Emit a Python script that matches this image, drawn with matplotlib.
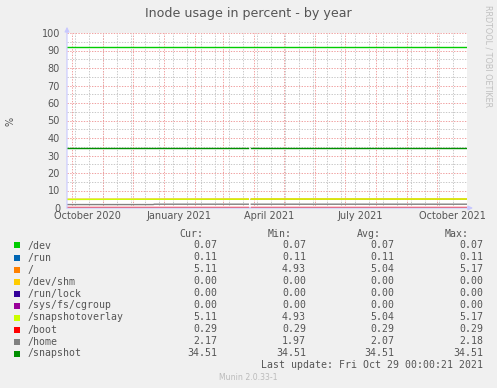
"""
Munin: Inode usage in percent - by year.
"""
import matplotlib
matplotlib.use("Agg")
import matplotlib.pyplot as plt
import numpy as np
import pandas as pd
from matplotlib.patches import Rectangle

W, H = 497, 388

# данные
names = ["/dev", "/run", "/", "/dev/shm", "/run/lock", "/sys/fs/cgroup",
         "/snapshotoverlay", "/boot", "/home", "/snapshot"]
colors = ["#00CC00", "#0066B3", "#FF8000", "#FFCC00", "#330099", "#990099",
          "#CCFF00", "#FF0000", "#808080", "#008F00"]
cur = ["0.07", "0.11", "5.11", "0.00", "0.00", "0.00", "5.11", "0.29", "2.17", "34.51"]
vmin = ["0.07", "0.11", "4.93", "0.00", "0.00", "0.00", "4.93", "0.29", "1.97", "34.51"]
vavg = ["0.07", "0.11", "5.04", "0.00", "0.00", "0.00", "5.04", "0.29", "2.07", "34.51"]
vmax = ["0.07", "0.11", "5.17", "0.00", "0.00", "0.00", "5.17", "0.29", "2.18", "34.51"]

# точки по времени (NaN = пропуск данных в конце марта)
dates = pd.to_datetime(["2020-09-25 17:00", "2020-12-21 00:00", "2020-12-22 00:00",
                        "2021-03-26 00:00", "2021-03-27 00:00", "2021-03-29 00:00",
                        "2021-10-30 17:00"])
nan = np.nan
series = {
    "/dev":             [0.07, 0.07, 0.07, 0.07, nan, 0.07, 0.07],
    "/run":             [0.11, 0.11, 0.11, 0.11, nan, 0.11, 0.11],
    "/":                [4.93, 5.00, 5.00, 5.05, nan, 5.10, 5.11],
    "/dev/shm":         [0.00, 0.00, 0.00, 0.00, nan, 0.00, 0.00],
    "/run/lock":        [0.00, 0.00, 0.00, 0.00, nan, 0.00, 0.00],
    "/sys/fs/cgroup":   [0.00, 0.00, 0.00, 0.00, nan, 0.00, 0.00],
    "/snapshotoverlay": [4.93, 5.00, 5.00, 5.05, nan, 5.10, 5.11],
    "/boot":            [0.29, 0.29, 0.29, 0.29, nan, 0.29, 0.29],
    "/home":            [1.97, 1.97, 2.17, 2.17, nan, 2.17, 2.17],
    "/snapshot":        [34.51, 34.51, 34.51, 34.51, nan, 34.51, 34.51],
}
warning = 92
last_update = "Last update: Fri Oct 29 00:00:21 2021"
version = "Munin 2.0.33-1"

x_start = pd.Timestamp("2020-09-25 17:00")
x_end = x_start + pd.Timedelta(days=400)
x_labels = ["October 2020", "January 2021", "April 2021", "July 2021", "October 2021"]
x_label_pos = pd.to_datetime(["2020-10-16", "2021-01-16", "2021-04-16",
                              "2021-07-16", "2021-10-16"])

TXT = "#555555"


def fx(px):
    return px / W


def fy(py):
    return 1 - py / H


fig = plt.figure(figsize=(W / 100, H / 100), dpi=100, facecolor="#F0F0F0")
ax = fig.add_axes([fx(67), fy(208), fx(467) - fx(67), fy(33) - fy(208)])
ax.set_facecolor("white")
ax.set_xlim(x_start, x_end)
ax.set_ylim(0, 100)

# сетка
dot = (0, (1.4, 1.4))
for d in pd.date_range("2020-10-04", x_end, freq="14D"):
    ax.axvline(d, color="#C8C8C8", lw=0.7, ls=dot, zorder=0)
for y in range(5, 100, 10):
    ax.axhline(y, color="#C8C8C8", lw=0.7, ls=dot, zorder=0)
for d in pd.date_range("2020-10-01", x_end, freq="MS"):
    ax.axvline(d, color="#F0A0A0", lw=0.7, ls=dot, zorder=1)
for y in range(0, 101, 10):
    ax.axhline(y, color="#F0A0A0", lw=0.7, ls=dot, zorder=1)

for name, c in zip(names, colors):
    ax.plot(dates, series[name], color=c, lw=1.0, zorder=3)
ax.axhline(warning, color="#00CC00", lw=1.0, zorder=3)

for s in ax.spines.values():
    s.set_visible(False)
ax.set_yticks(range(0, 101, 10))
ax.set_xticks(x_label_pos)
ax.set_xticklabels(x_labels)
ax.tick_params(length=0, labelsize=7, labelcolor=TXT)
ax.tick_params(axis="y", pad=5)
ax.tick_params(axis="x", pad=2.5)

# оси со стрелками
ax.annotate("", xy=(1.015, 0), xytext=(0, 0), xycoords="axes fraction",
            arrowprops=dict(arrowstyle="-|>", color="#C8C8FF", lw=0.8,
                            mutation_scale=7, shrinkA=0, shrinkB=0), zorder=5)
ax.annotate("", xy=(0, 1.035), xytext=(0, 0), xycoords="axes fraction",
            arrowprops=dict(arrowstyle="-|>", color="#C8C8FF", lw=0.8,
                            mutation_scale=7, shrinkA=0, shrinkB=0), zorder=5)

fig.text(fx(248), fy(14), "Inode usage in percent - by year", ha="center",
         va="center", fontsize=9.1, color=TXT)
fig.text(fx(10), fy(121), "%", rotation=90, ha="center", va="center",
         fontsize=7, color=TXT)
fig.text(fx(488), fy(56), "RRDTOOL / TOBI OETIKER", rotation=270, ha="center",
         va="center", fontsize=5.8, color="#C0C0C0")

# легенда
mono = dict(family="DejaVu Sans Mono", fontsize=7.1, color=TXT, va="center")
for label, xr in zip(["Cur:", "Min:", "Avg:", "Max:"], [203, 292, 381, 469]):
    fig.text(fx(xr), fy(234), label, ha="right", **mono)
for i, name in enumerate(names):
    yc = 245.5 + i * 12
    fig.add_artist(Rectangle((fx(14), fy(yc + 3)), 6 / W, 6 / H,
                             transform=fig.transFigure, color=colors[i], lw=0))
    fig.text(fx(27), fy(yc), name, ha="left", **mono)
    for val, xr in zip([cur[i], vmin[i], vavg[i], vmax[i]], [217, 306, 394, 483]):
        fig.text(fx(xr), fy(yc), val, ha="right", **mono)
fig.text(fx(483), fy(365.5), last_update, ha="right", **mono)
fig.text(fx(248), fy(377), version, ha="center", va="center", fontsize=5.6,
         color="#BBBBBB")

fig.savefig("out.png", dpi=100, facecolor=fig.get_facecolor())
